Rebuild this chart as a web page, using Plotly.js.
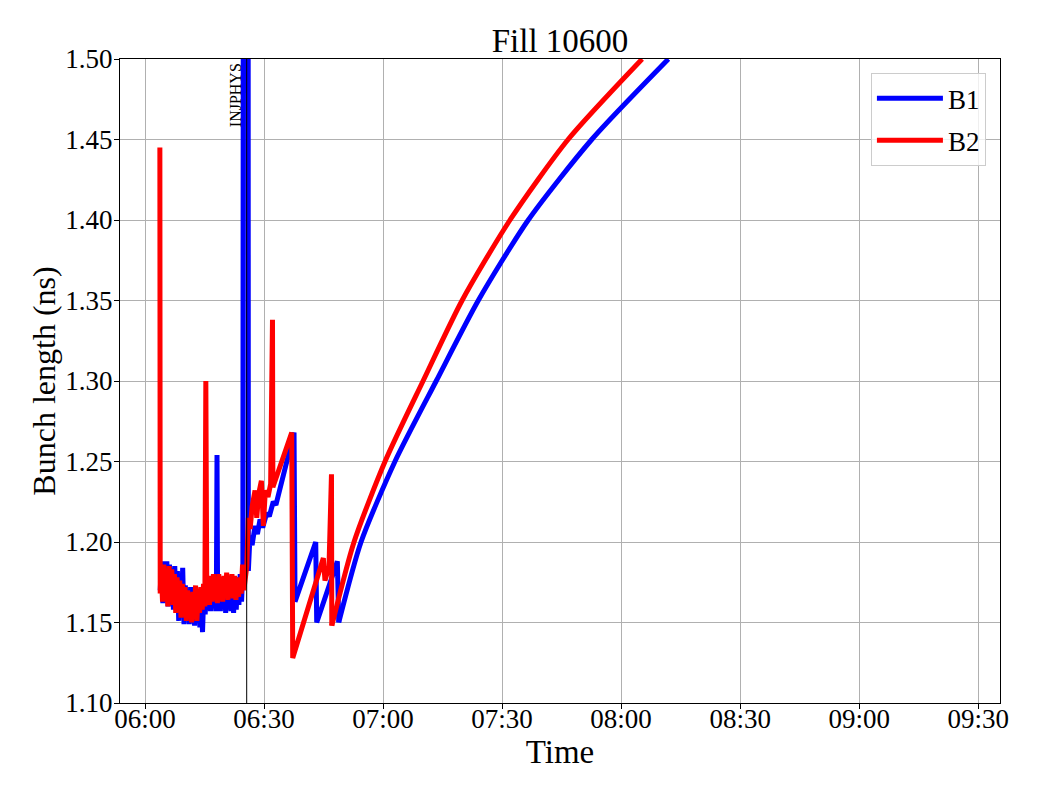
<!DOCTYPE html>
<html>
<head>
<meta charset="utf-8">
<script src="https://cdn.plot.ly/plotly-3.0.1.min.js"></script>
<style>body{margin:0;background:#fff}#chart{width:1040px;height:800px}</style>
</head>
<body>
<div id="chart"></div>
<script>
const DAY = "2025-05-10 ";
const TITLE = "Fill 10600";
const SERIES_NAMES = ["B1", "B2"];
const MARKER_TIME = "06:25:38";
const MARKER_LABEL = "INJPHYS";

// B1 during injection / ramp (noisy part)
const b1Time = [
"06:03:50","06:04:10","06:04:30","06:04:50","06:05:10","06:05:30","06:05:50","06:06:10","06:06:30","06:06:50",
"06:07:10","06:07:30","06:07:50","06:08:10","06:08:30","06:08:50","06:09:10","06:09:30","06:09:50","06:10:10",
"06:10:30","06:10:50","06:11:10","06:11:30","06:11:50","06:12:10","06:12:30","06:12:50","06:13:10","06:13:30",
"06:13:50","06:14:10","06:14:30","06:14:50","06:15:10","06:15:30","06:15:50","06:16:10","06:16:30","06:16:50",
"06:17:10","06:17:30","06:17:50","06:18:00","06:18:09","06:18:18","06:18:40","06:19:00","06:19:20","06:19:40",
"06:20:00","06:20:20","06:20:40","06:21:00","06:21:20","06:21:40","06:22:00","06:22:20","06:22:40","06:23:00",
"06:23:20","06:23:40","06:24:00","06:24:20","06:24:40","06:24:47","06:26:00","06:26:03",
"06:26:28","06:27:00","06:27:44","06:28:20","06:29:00","06:29:40","06:30:41","06:31:20","06:32:20","06:33:00",
"06:37:34","06:37:49","06:43:02","06:43:17","06:48:29","06:48:50"
];
const b1Value = [
1.170,1.186,1.162,1.188,1.165,1.188,1.160,1.186,1.168,1.180,
1.158,1.185,1.161,1.182,1.151,1.178,1.158,1.184,1.149,1.173,
1.152,1.169,1.149,1.172,1.150,1.167,1.148,1.171,1.151,1.168,
1.147,1.166,1.144,1.169,1.155,1.172,1.158,1.176,1.157,1.174,
1.159,1.178,1.157,1.171,1.254,1.163,1.176,1.157,1.178,1.159,
1.175,1.156,1.177,1.158,1.179,1.157,1.174,1.156,1.176,1.158,
1.178,1.161,1.180,1.163,1.182,1.600,1.600,1.182,
1.204,1.198,1.210,1.205,1.214,1.209,1.218,1.216,1.225,1.223,
1.268,1.163,1.200,1.150,1.188,1.150
];
// B1 smooth rise after end of ramp
const b1CurveTime = ["06:48:50","06:54:27","07:03:00","07:13:24","07:24:00","07:36:36","07:52:36","08:11:55"];
const b1CurveValue = [1.150,1.200,1.250,1.300,1.350,1.400,1.450,1.500];

// B2 during injection / ramp (noisy part)
const b2Time = [
"06:03:45","06:03:50","06:04:05","06:04:25","06:04:45","06:05:05","06:05:25","06:05:45","06:06:05","06:06:25",
"06:06:45","06:07:05","06:07:25","06:07:45","06:08:05","06:08:25","06:08:45","06:09:05","06:09:25","06:09:45",
"06:10:05","06:10:25","06:10:45","06:11:05","06:11:25","06:11:45","06:12:05","06:12:25","06:12:45","06:13:05",
"06:13:25","06:13:45","06:14:05","06:14:25","06:14:45","06:15:05","06:15:20","06:15:35","06:15:55","06:16:15",
"06:16:35","06:16:55","06:17:15","06:17:35","06:17:55","06:18:15","06:18:35","06:18:55","06:19:15","06:19:35",
"06:19:55","06:20:15","06:20:35","06:20:55","06:21:15","06:21:35","06:21:55","06:22:15","06:22:35","06:22:55",
"06:23:15","06:23:35","06:23:55","06:24:15","06:24:35","06:24:55","06:25:15","06:25:40",
"06:26:02","06:26:30","06:27:00","06:27:44","06:28:10","06:28:40","06:29:20","06:29:50","06:30:20","06:31:00",
"06:31:40","06:32:08","06:32:14","06:36:59","06:37:14","06:44:57","06:45:22","06:46:23","06:47:00","06:47:05"
];
const b2Value = [
1.445,1.168,1.184,1.163,1.186,1.166,1.182,1.160,1.185,1.164,
1.183,1.161,1.180,1.156,1.178,1.158,1.176,1.153,1.174,1.158,
1.172,1.151,1.170,1.154,1.168,1.150,1.169,1.153,1.173,1.151,
1.168,1.156,1.172,1.158,1.174,1.160,1.300,1.163,1.176,1.161,
1.179,1.163,1.180,1.164,1.177,1.162,1.180,1.165,1.178,1.163,
1.179,1.166,1.181,1.164,1.178,1.166,1.180,1.165,1.179,1.164,
1.177,1.166,1.178,1.168,1.186,1.170,1.180,1.185,
1.215,1.208,1.222,1.232,1.215,1.230,1.238,1.210,1.232,1.228,
1.236,1.338,1.234,1.268,1.128,1.190,1.176,1.185,1.242,1.148
];
// B2 smooth rise after end of ramp
const b2CurveTime = ["06:47:05","06:52:41","07:00:30","07:10:05","07:19:55","07:32:00","07:46:38","08:05:18"];
const b2CurveValue = [1.148,1.200,1.250,1.300,1.350,1.400,1.450,1.500];

const yTickVals = [1.10,1.15,1.20,1.25,1.30,1.35,1.40,1.45,1.50];
const xTickText = ["06:00","06:30","07:00","07:30","08:00","08:30","09:00","09:30"];

const FONT = "Liberation Serif, Times New Roman, serif";
const COLORS = ["#0000ff", "#ff0000"];
const LW = 5;
const ts = arr => arr.map(t => DAY + t);

const traces = [
  {x: ts(b1Time), y: b1Value, name: SERIES_NAMES[0], legendgroup: "b1", type: "scatter", mode: "lines",
   line: {color: COLORS[0], width: LW}},
  {x: ts(b1CurveTime), y: b1CurveValue, name: SERIES_NAMES[0], legendgroup: "b1", showlegend: false,
   type: "scatter", mode: "lines", line: {color: COLORS[0], width: LW, shape: "spline", smoothing: 0.7}},
  {x: ts(b2Time), y: b2Value, name: SERIES_NAMES[1], legendgroup: "b2", type: "scatter", mode: "lines",
   line: {color: COLORS[1], width: LW}},
  {x: ts(b2CurveTime), y: b2CurveValue, name: SERIES_NAMES[1], legendgroup: "b2", showlegend: false,
   type: "scatter", mode: "lines", line: {color: COLORS[1], width: LW, shape: "spline", smoothing: 0.7}}
];

const layout = {
  width: 1040, height: 800,
  margin: {l: 120, r: 40, t: 59, b: 97},
  paper_bgcolor: "#ffffff", plot_bgcolor: "#ffffff",
  font: {family: FONT, color: "#000", size: 27},
  title: {text: TITLE, font: {family: FONT, size: 33, color: "#000"}, x: 0.5385, xanchor: "center", y: 0.95, yanchor: "middle"},
  showlegend: true,
  legend: {x: 0.984, xanchor: "right", y: 0.978, yanchor: "top", bgcolor: "rgba(255,255,255,0.8)",
           bordercolor: "#cccccc", borderwidth: 1, font: {family: FONT, size: 27, color: "#000"},
           itemwidth: 66, tracegroupgap: 4},
  xaxis: {
    type: "date",
    range: [DAY + "05:53:42", DAY + "09:35:30"],
    tickvals: xTickText.map(t => DAY + t + ":00"),
    ticktext: xTickText,
    ticks: "outside", ticklen: 5, tickcolor: "#000", tickwidth: 1,
    ticklabelstandoff: -13,
    showgrid: true, gridcolor: "#b0b0b0", gridwidth: 1,
    showline: true, linecolor: "#000", linewidth: 1, mirror: true, zeroline: false,
    tickfont: {family: FONT, size: 27, color: "#000"},
    title: {text: "Time", font: {family: FONT, size: 33, color: "#000"}, standoff: 0}
  },
  yaxis: {
    range: [1.10, 1.50],
    tickvals: yTickVals,
    tickformat: ".2f",
    ticks: "outside", ticklen: 5, tickcolor: "#000", tickwidth: 1,
    ticklabelstandoff: -4,
    showgrid: true, gridcolor: "#b0b0b0", gridwidth: 1,
    showline: true, linecolor: "#000", linewidth: 1, mirror: true, zeroline: false,
    tickfont: {family: FONT, size: 27, color: "#000"},
    title: {text: "Bunch length (ns)", font: {family: FONT, size: 32, color: "#000"}, standoff: 0}
  },
  shapes: [{type: "line", xref: "x", yref: "paper", x0: DAY + MARKER_TIME, x1: DAY + MARKER_TIME, y0: 0, y1: 1,
            line: {color: "#000", width: 1}}],
  annotations: [{xref: "x", yref: "paper", x: DAY + MARKER_TIME, y: 1, xanchor: "right", yanchor: "top",
                 text: MARKER_LABEL, textangle: -90, showarrow: false, xshift: -1, yshift: -2,
                 font: {family: FONT, size: 16, color: "#000"}}]
};

Plotly.newPlot("chart", traces, layout, {displayModeBar: false, staticPlot: true});
</script>
</body>
</html>
